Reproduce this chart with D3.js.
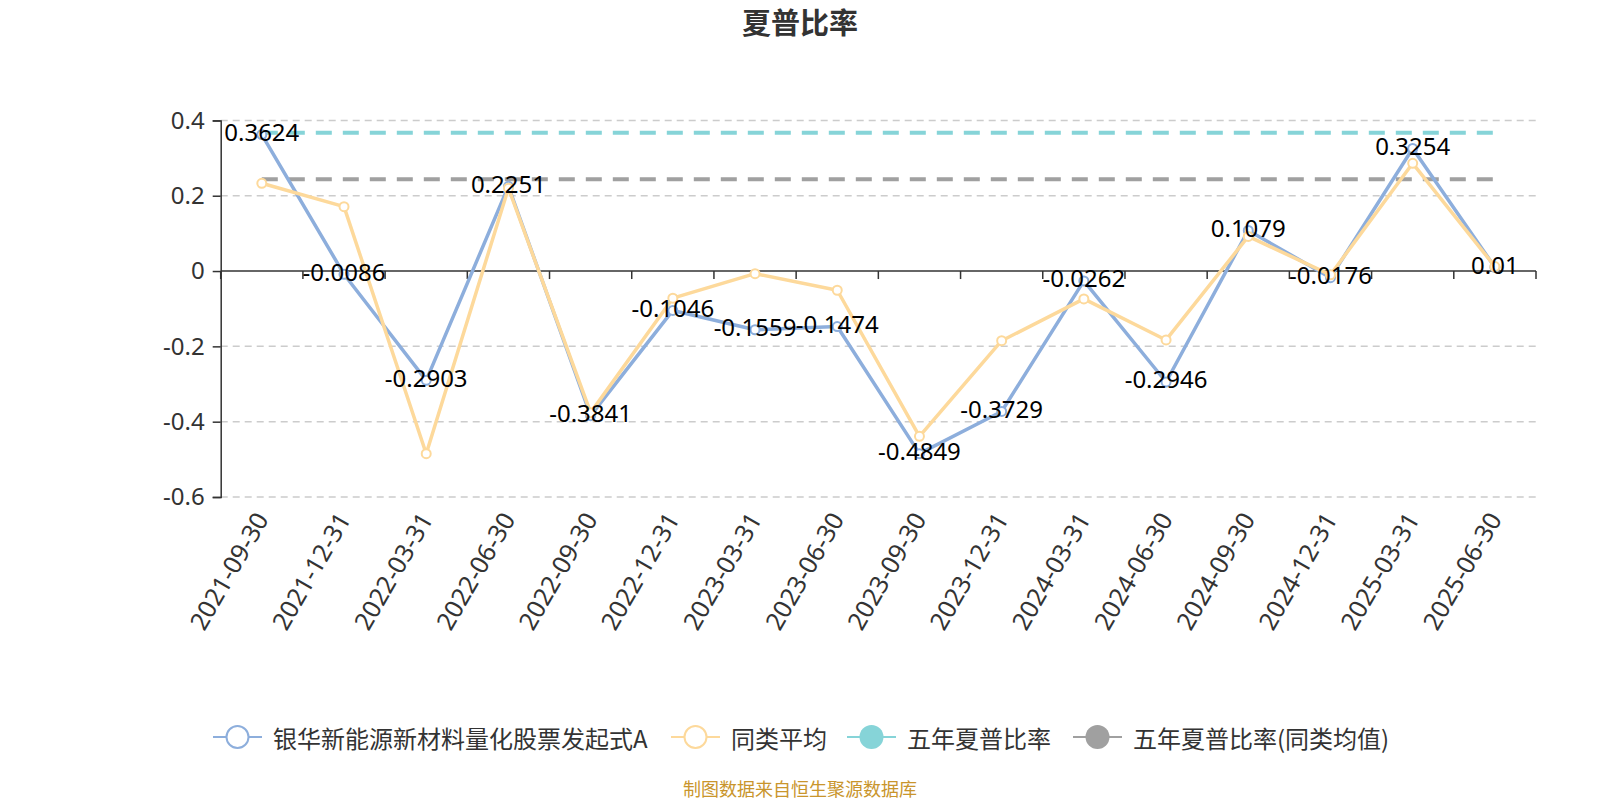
<!DOCTYPE html>
<html>
<head>
<meta charset="utf-8">
<script src="https://cdn.jsdelivr.net/npm/d3@7/dist/d3.min.js"></script>
<style>
  body { margin: 0; background: #fff; }
  svg { font-family: "Noto Sans CJK SC", "Noto Sans", sans-serif; }
</style>
</head>
<body>
<svg id="chart" width="1600" height="800"></svg>
<script>
const dates = ['2021-09-30','2021-12-31','2022-03-31','2022-06-30','2022-09-30','2022-12-31',
  '2023-03-31','2023-06-30','2023-09-30','2023-12-31','2024-03-31','2024-06-30',
  '2024-09-30','2024-12-31','2025-03-31','2025-06-30']
const fundValues = [0.3624, -0.0086, -0.2903, 0.2251, -0.3841, -0.1046, -0.1559, -0.1474,
  -0.4849, -0.3729, -0.0262, -0.2946, 0.1079, -0.0176, 0.3254, 0.01]
const peerValues = [0.233, 0.171, -0.485, 0.22, -0.376, -0.072, -0.007, -0.051,
  -0.439, -0.185, -0.074, -0.183, 0.092, -0.01, 0.286, 0.012]
const fiveYear = 0.367
const fiveYearPeer = 0.244
const yTicks = [0.4, 0.2, 0, -0.2, -0.4, -0.6]
const legendNames = ['银华新能源新材料量化股票发起式A', '同类平均', '五年夏普比率', '五年夏普比率(同类均值)']

const colors = { fund: '#8DAEDC', peer: '#FDD99B', five: '#86D4D8', fivePeer: '#A0A0A0', text: '#333' }
const numFont = '"Noto Sans", sans-serif'

const svg = d3.select('#chart')
const gLeft = 220.7, gRight = 1536, gTop = 120.4, gBottom = 497

const x = d3.scaleBand().domain(dates).range([gLeft, gRight])
const cx = d => x(d) + x.bandwidth() / 2
const y = d3.scaleLinear().domain([-0.6, 0.4]).range([gBottom, gTop])
const fmt = d => String(d)

// title
svg.append('text')
  .attr('x', 800).attr('y', 34)
  .attr('text-anchor', 'middle')
  .attr('font-size', 29).attr('font-weight', 'bold')
  .attr('fill', colors.text)
  .text('夏普比率')

// grid lines
svg.append('g').selectAll('line')
  .data(yTicks.filter(t => t != 0)).enter().append('line')
  .attr('x1', gLeft).attr('x2', gRight)
  .attr('y1', d => y(d)).attr('y2', d => y(d))
  .attr('stroke', '#ccc').attr('stroke-width', 1.5)
  .attr('stroke-dasharray', '7,5')

// y axis
const yAxis = svg.append('g')
  .attr('transform', `translate(${gLeft},0)`)
  .call(d3.axisLeft(y).tickValues(yTicks).tickSize(8).tickFormat(fmt))
yAxis.select('.domain').attr('stroke', colors.text).attr('stroke-width', 1.5)
yAxis.selectAll('.tick line').attr('stroke', colors.text).attr('stroke-width', 1.5)
yAxis.selectAll('.tick text')
  .attr('font-size', 24).attr('fill', colors.text).attr('x', -16)
  .style('font-family', numFont)

// x axis on zero line
const xAxisG = svg.append('g').attr('transform', `translate(0,${y(0)})`)
xAxisG.append('line')
  .attr('x1', gLeft).attr('x2', gRight)
  .attr('stroke', colors.text).attr('stroke-width', 1.5)
xAxisG.selectAll('.xt')
  .data(dates.map(d => x(d)).concat([gRight])).enter().append('line')
  .attr('x1', d => d).attr('x2', d => d)
  .attr('y1', 0).attr('y2', 8)
  .attr('stroke', colors.text).attr('stroke-width', 1.5)

// x labels at bottom of grid
svg.append('g').selectAll('text')
  .data(dates).enter().append('text')
  .attr('transform', d => `translate(${cx(d) - 1},${gBottom + 17}) rotate(-60)`)
  .attr('text-anchor', 'end')
  .attr('dominant-baseline', 'central')
  .attr('font-size', 25).attr('fill', colors.text)
  .style('font-family', numFont)
  .text(d => d)

// five year reference lines (first to last category)
const refStart = cx(dates[0]), refEnd = cx(dates[dates.length - 1])
svg.append('line')
  .attr('x1', refStart).attr('x2', refEnd)
  .attr('y1', y(fiveYear)).attr('y2', y(fiveYear))
  .attr('stroke', colors.five).attr('stroke-width', 4)
  .attr('stroke-dasharray', '16,11')
svg.append('line')
  .attr('x1', refStart).attr('x2', refEnd)
  .attr('y1', y(fiveYearPeer)).attr('y2', y(fiveYearPeer))
  .attr('stroke', colors.fivePeer).attr('stroke-width', 4)
  .attr('stroke-dasharray', '16,11')

const line = d3.line().x((d, i) => cx(dates[i])).y(d => y(d))

function drawSeries(values, color) {
  svg.append('path')
    .datum(values)
    .attr('d', line)
    .attr('fill', 'none')
    .attr('stroke', color).attr('stroke-width', 3.5)
    .attr('stroke-linejoin', 'round')
  svg.append('g').selectAll('circle')
    .data(values).enter().append('circle')
    .attr('cx', (d, i) => cx(dates[i]))
    .attr('cy', d => y(d))
    .attr('r', 4.5)
    .attr('fill', '#fff')
    .attr('stroke', color).attr('stroke-width', 2)
}

drawSeries(fundValues, colors.fund)
drawSeries(peerValues, colors.peer)

// value labels for fund series
svg.append('g').selectAll('text')
  .data(fundValues).enter().append('text')
  .attr('x', (d, i) => cx(dates[i]))
  .attr('y', d => y(d) - 3)
  .attr('text-anchor', 'middle')
  .attr('dominant-baseline', 'central')
  .attr('font-size', 24).attr('fill', '#000')
  .style('font-family', numFont)
  .text(fmt)

// legend
const legendItems = [
  { name: legendNames[0], color: colors.fund, hollow: true, x: 213 },
  { name: legendNames[1], color: colors.peer, hollow: true, x: 671 },
  { name: legendNames[2], color: colors.five, hollow: false, x: 847 },
  { name: legendNames[3], color: colors.fivePeer, hollow: false, x: 1073 }
]
const lg = svg.append('g').selectAll('g')
  .data(legendItems).enter().append('g')
  .attr('transform', d => `translate(${d.x},737)`)
lg.append('line')
  .attr('x1', 0).attr('x2', 49)
  .attr('stroke', d => d.color).attr('stroke-width', 2)
lg.append('circle')
  .attr('cx', 24.5).attr('r', d => d.hollow ? 11 : 12)
  .attr('fill', d => d.hollow ? '#fff' : d.color)
  .attr('stroke', d => d.color).attr('stroke-width', d => d.hollow ? 2 : 0)
lg.append('text')
  .attr('x', 60).attr('dominant-baseline', 'central')
  .attr('font-size', 24).attr('fill', colors.text)
  .text(d => d.name)

// footer
svg.append('text')
  .attr('x', 800).attr('y', 796)
  .attr('text-anchor', 'middle')
  .attr('font-size', 18).attr('fill', '#C9952C')
  .text('制图数据来自恒生聚源数据库')
</script>
</body>
</html>
